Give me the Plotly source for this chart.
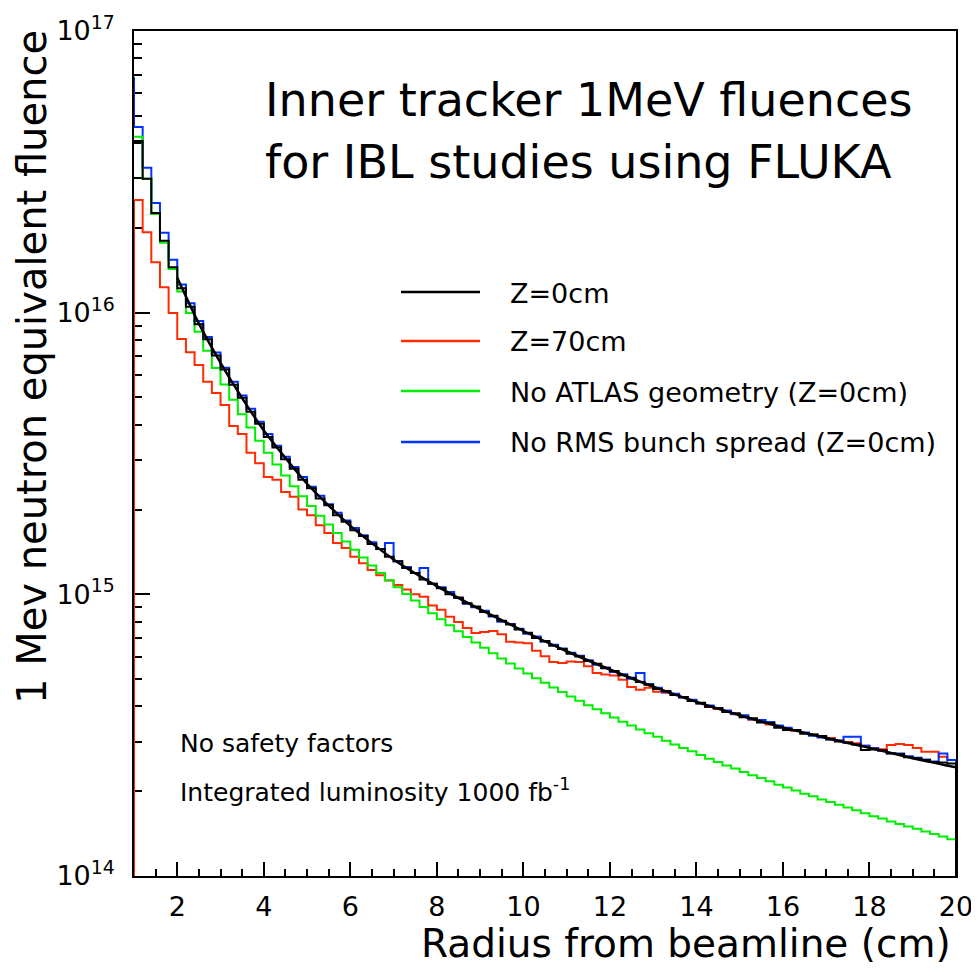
import numpy as np
import plotly.graph_objects as go

# ---------------- data ----------------
BIN_START = 1.0      # cm, low edge of first bin
BIN_WIDTH = 0.2      # cm
BELOW_AXIS = 1e13    # histogram drops to the floor after the last bin

# Z = 0 cm
z0_values = [
    4.07e16, 2.99e16, 2.26e16, 1.80e16, 1.45e16, 1.22e16, 1.05e16, 9.10e15, 8.05e15, 7.05e15,
    6.28e15, 5.55e15, 4.99e15, 4.45e15, 4.03e15, 3.62e15, 3.32e15, 3.02e15, 2.79e15, 2.55e15,
    2.38e15, 2.19e15, 2.07e15, 1.91e15, 1.81e15, 1.69e15, 1.61e15, 1.51e15, 1.45e15, 1.36e15,
    1.31e15, 1.24e15, 1.19e15, 1.13e15, 1.09e15, 1.05e15, 1.00e15, 9.75e14, 9.30e14, 9.05e14,
    8.65e14, 8.40e14, 8.05e14, 7.82e14, 7.50e14, 7.30e14, 7.00e14, 6.83e14, 6.57e14, 6.40e14,
    6.15e14, 6.02e14, 5.80e14, 5.67e14, 5.46e14, 5.34e14, 5.16e14, 5.06e14, 4.88e14, 4.78e14,
    4.61e14, 4.54e14, 4.39e14, 4.32e14, 4.18e14, 4.12e14, 3.99e14, 3.94e14, 3.82e14, 3.78e14,
    3.66e14, 3.63e14, 3.51e14, 3.49e14, 3.36e14, 3.30e14, 3.30e14, 3.20e14, 3.18e14, 3.14e14,
    3.05e14, 3.00e14, 2.97e14, 2.93e14, 2.80e14, 2.81e14, 2.79e14, 2.72e14, 2.71e14, 2.64e14,
    2.62e14, 2.58e14, 2.54e14, 2.53e14, 2.51e14,
]

# Z = 70 cm
z70_values = [
    2.51e16, 1.93e16, 1.51e16, 1.23e16, 9.98e15, 8.07e15, 7.24e15, 6.52e15, 5.68e15, 5.19e15,
    4.70e15, 3.96e15, 3.71e15, 3.18e15, 2.92e15, 2.61e15, 2.55e15, 2.31e15, 2.22e15, 2.00e15,
    1.91e15, 1.76e15, 1.65e15, 1.52e15, 1.46e15, 1.36e15, 1.29e15, 1.22e15, 1.17e15, 1.12e15,
    1.08e15, 1.04e15, 1.00e15, 9.80e14, 9.12e14, 8.81e14, 8.32e14, 7.98e14, 7.59e14, 7.29e14,
    7.35e14, 7.41e14, 7.21e14, 6.78e14, 6.75e14, 6.71e14, 6.31e14, 6.03e14, 5.75e14, 5.70e14,
    5.78e14, 5.75e14, 5.56e14, 5.26e14, 5.19e14, 5.15e14, 4.97e14, 4.69e14, 4.58e14, 4.66e14,
    4.51e14, 4.47e14, 4.42e14, 4.30e14, 4.19e14, 4.09e14, 3.98e14, 3.92e14, 3.83e14, 3.75e14,
    3.68e14, 3.59e14, 3.53e14, 3.45e14, 3.40e14, 3.33e14, 3.27e14, 3.22e14, 3.18e14, 3.12e14,
    3.09e14, 3.03e14, 2.99e14, 2.96e14, 2.90e14, 2.85e14, 2.82e14, 2.92e14, 2.94e14, 2.92e14,
    2.85e14, 2.76e14, 2.76e14, 2.65e14, 2.58e14,
]

# No ATLAS geometry (Z = 0 cm)
no_atlas_values = [
    4.21e16, 2.99e16, 2.24e16, 1.77e16, 1.43e16, 1.19e16, 9.98e15, 8.55e15, 7.33e15, 6.36e15,
    5.56e15, 4.91e15, 4.36e15, 3.91e15, 3.51e15, 3.18e15, 2.89e15, 2.64e15, 2.42e15, 2.23e15,
    2.06e15, 1.90e15, 1.77e15, 1.65e15, 1.54e15, 1.44e15, 1.35e15, 1.265e15, 1.19e15, 1.123e15,
    1.06e15, 1.003e15, 9.50e14, 9.02e14, 8.57e14, 8.15e14, 7.76e14, 7.40e14, 7.06e14, 6.75e14,
    6.46e14, 6.18e14, 5.92e14, 5.68e14, 5.45e14, 5.24e14, 5.04e14, 4.85e14, 4.67e14, 4.50e14,
    4.34e14, 4.19e14, 4.04e14, 3.91e14, 3.78e14, 3.65e14, 3.53e14, 3.42e14, 3.31e14, 3.21e14,
    3.12e14, 3.02e14, 2.93e14, 2.85e14, 2.77e14, 2.69e14, 2.61e14, 2.54e14, 2.47e14, 2.41e14,
    2.34e14, 2.28e14, 2.23e14, 2.17e14, 2.11e14, 2.06e14, 2.01e14, 1.96e14, 1.92e14, 1.87e14,
    1.83e14, 1.79e14, 1.75e14, 1.71e14, 1.67e14, 1.63e14, 1.60e14, 1.56e14, 1.53e14, 1.50e14,
    1.47e14, 1.44e14, 1.41e14, 1.38e14, 1.35e14,
]

# No RMS bunch spread (Z = 0 cm)
no_rms_prev_bin = 6.87e16   # bin just left of the axis range (its edge shows at x = 1)
no_rms_values = [
    4.56e16, 3.27e16, 2.45e16, 1.92e16, 1.54e16, 1.26e16, 1.08e16, 9.35e15, 8.20e15, 7.22e15,
    6.38e15, 5.68e15, 5.08e15, 4.56e15, 4.10e15, 3.71e15, 3.37e15, 3.08e15, 2.83e15, 2.61e15,
    2.41e15, 2.24e15, 2.09e15, 1.95e15, 1.83e15, 1.72e15, 1.62e15, 1.53e15, 1.45e15, 1.52e15,
    1.31e15, 1.25e15, 1.19e15, 1.24e15, 1.09e15, 1.06e15, 1.02e15, 9.70e14, 9.25e14, 9.00e14,
    8.75e14, 8.35e14, 8.00e14, 7.85e14, 7.55e14, 7.25e14, 7.08e14, 6.78e14, 6.62e14, 6.42e14,
    6.20e14, 6.05e14, 5.84e14, 5.62e14, 5.50e14, 5.30e14, 5.20e14, 5.02e14, 5.26e14, 4.80e14,
    4.66e14, 4.50e14, 4.44e14, 4.30e14, 4.22e14, 4.10e14, 4.03e14, 3.95e14, 3.87e14, 3.76e14,
    3.72e14, 3.60e14, 3.58e14, 3.52e14, 3.42e14, 3.36e14, 3.29e14, 3.23e14, 3.15e14, 3.10e14,
    3.06e14, 3.03e14, 3.12e14, 3.12e14, 2.90e14, 2.84e14, 2.79e14, 2.73e14, 2.72e14, 2.66e14,
    2.63e14, 2.59e14, 2.55e14, 2.72e14, 2.58e14,
]

# smooth fit drawn over the Z = 0 cm histogram
fit_radius = [2, 2.5, 3, 3.5, 4, 5, 6, 7, 8, 9, 10, 11, 12, 13, 14, 15, 16, 17, 18, 19, 20]
fit_values = [1.33e16, 9.14e15, 6.64e15, 4.97e15, 3.82e15, 2.47e15, 1.75e15, 1.33e15, 1.07e15,
              8.85e14, 7.41e14, 6.28e14, 5.41e14, 4.70e14, 4.15e14, 3.72e14, 3.37e14, 3.09e14,
              2.85e14, 2.62e14, 2.43e14]

legend_labels = ["Z=0cm", "Z=70cm", "No ATLAS geometry (Z=0cm)", "No RMS bunch spread (Z=0cm)"]
title_lines = ["Inner tracker 1MeV fluences", "for IBL studies using FLUKA"]
note_lines = ["No safety factors", "Integrated luminosity 1000 fb<sup>-1</sup>"]
x_title = "Radius from beamline (cm)"
y_title = "1 Mev neutron equivalent fluence"
y_tick_vals = [1e14, 1e15, 1e16, 1e17]
y_tick_text = ["10<sup>14</sup>", "10<sup>15</sup>", "10<sup>16</sup>", "10<sup>17</sup>"]

# ---------------- styling ----------------
FONT = "DejaVu Sans"
C_BLACK = "#000000"
C_RED = "#ff2a00"
C_GREEN = "#00ee00"
C_BLUE = "#0033ff"


def hist_xy(values, lead=None):
    n = len(values)
    edges = BIN_START + BIN_WIDTH * np.arange(n + 1)
    x = list(edges[:n]) + [edges[n]]
    y = list(values) + [BELOW_AXIS]
    if lead is not None:
        x = [edges[0]] + x
        y = [lead] + y
    return x, y


fig = go.Figure()

series = [
    (z70_values, C_RED, BELOW_AXIS, legend_labels[1]),
    (no_rms_values, C_BLUE, no_rms_prev_bin, legend_labels[3]),
    (no_atlas_values, C_GREEN, None, legend_labels[2]),
    (z0_values, C_BLACK, None, legend_labels[0]),
]
for vals, col, lead, name in series:
    hx, hy = hist_xy(vals, lead)
    fig.add_trace(go.Scatter(x=hx, y=hy, mode="lines", line=dict(color=col, width=2, shape="hv"),
                             name=name, showlegend=False, hoverinfo="skip"))

fig.add_trace(go.Scatter(x=fit_radius, y=fit_values, mode="lines",
                         line=dict(color=C_BLACK, width=2.5, shape="spline", smoothing=0.6),
                         showlegend=False, hoverinfo="skip"))

# page geometry: the page body adds an 8 px margin at the top-left of the figure
OFF = 8
W, H = 979 - OFF, 972 - OFF
PLOT_L, PLOT_R, PLOT_T, PLOT_B = 134, 956, 31, 876   # plot frame in page pixels
ML, MT = PLOT_L - OFF, PLOT_T - OFF
MR, MB = W - (PLOT_R - OFF), H - (PLOT_B - OFF)
PW, PH = PLOT_R - PLOT_L, PLOT_B - PLOT_T


def px_x(px):
    return (px - PLOT_L) / PW


def px_y(py):
    return (PLOT_B - py) / PH


# manual legend (ROOT style: long line samples, no box)
legend_colors = [C_BLACK, C_RED, C_GREEN, C_BLUE]
legend_rows = [292, 341, 391, 442]
shapes = []
annotations = []
for lab, col, row in zip(legend_labels, legend_colors, legend_rows):
    shapes.append(dict(type="line", xref="paper", yref="paper", x0=px_x(401), x1=px_x(480),
                       y0=px_y(row), y1=px_y(row), line=dict(color=col, width=2.5)))
    annotations.append(dict(text=lab, xref="paper", yref="paper", x=px_x(508), y=px_y(row + 1),
                            xanchor="left", yanchor="middle", showarrow=False,
                            font=dict(family=FONT, size=27, color="#000")))

for line, row in zip(title_lines, [100, 162]):
    annotations.append(dict(text=line, xref="paper", yref="paper", x=px_x(263), y=px_y(row),
                            xanchor="left", yanchor="middle", showarrow=False,
                            font=dict(family=FONT, size=46, color="#000")))

for line, row in zip(note_lines, [743, 790]):
    annotations.append(dict(text=line, xref="paper", yref="paper", x=px_x(178), y=px_y(row),
                            xanchor="left", yanchor="middle", showarrow=False,
                            font=dict(family=FONT, size=25, color="#000")))

annotations.append(dict(text=x_title, xref="paper", yref="paper", x=px_x(953), y=px_y(943),
                        xanchor="right", yanchor="middle", showarrow=False,
                        font=dict(family=FONT, size=39, color="#000")))
annotations.append(dict(text=y_title, xref="paper", yref="paper", x=px_x(32), y=px_y(28),
                        xanchor="center", yanchor="top", textangle=-90, showarrow=False,
                        font=dict(family=FONT, size=40, color="#000")))

fig.update_layout(
    width=W, height=H,
    margin=dict(l=ML, r=MR, t=MT, b=MB, pad=0, autoexpand=False),
    paper_bgcolor="white", plot_bgcolor="white",
    showlegend=False,
    shapes=shapes, annotations=annotations,
    font=dict(family=FONT, color="#000"),
)

fig.update_xaxes(
    range=[1, 20], tick0=0, dtick=2, automargin=False, ticklabeloverflow="allow",
    ticks="inside", ticklen=14, tickwidth=1.5, tickcolor="#000",
    minor=dict(dtick=0.5, tick0=0, ticks="inside", ticklen=7, tickwidth=1.5, tickcolor="#000"),
    showline=True, linecolor="#000", linewidth=1.5, mirror=True,
    showgrid=False, zeroline=False, layer="below traces",
    tickfont=dict(family=FONT, size=27, color="#000"), ticklabelstandoff=6,
)
fig.update_yaxes(
    type="log", range=[14, 17], automargin=False, ticklabeloverflow="allow",
    tickvals=y_tick_vals, ticktext=y_tick_text,
    ticks="inside", ticklen=16, tickwidth=1.5, tickcolor="#000",
    minor=dict(dtick="D1", ticks="inside", ticklen=8, tickwidth=1.5, tickcolor="#000"),
    showline=True, linecolor="#000", linewidth=1.5, mirror=True,
    showgrid=False, zeroline=False, layer="below traces",
    tickfont=dict(family=FONT, size=27, color="#000"), ticklabelstandoff=12,
)

fig.write_html("out.html")
